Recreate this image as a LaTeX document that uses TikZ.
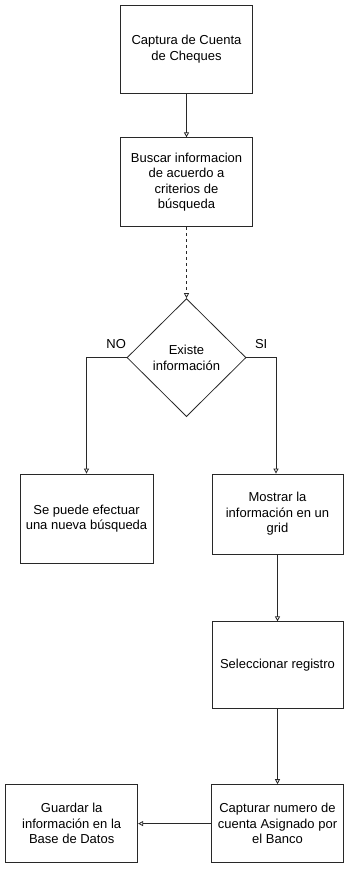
\documentclass[tikz,border=0pt]{standalone}
\usepackage{fontspec}
\setmainfont{Liberation Sans}
\usetikzlibrary{arrows.meta,positioning,shapes.geometric}
\definecolor{edge}{RGB}{40,40,40}
\tikzset{
 box/.style={draw=edge, line width=.8pt, align=center, minimum width=132pt,
             inner xsep=2pt, font=\fontsize{13}{15.5}\selectfont},
 decision/.style={draw=edge, line width=.8pt, diamond, aspect=1, minimum width=119pt,
             minimum height=118pt, inner sep=0pt, align=center, font=\fontsize{13}{15.5}\selectfont},
 flow/.style={-{Triangle[open,length=5pt,width=5pt]}, line width=.8pt, draw=edge},
 small/.style={font=\fontsize{13}{15.5}\selectfont}
}
\begin{document}
\begin{tikzpicture}[x=1pt,y=-1pt]
\useasboundingbox (0,0) rectangle (355,879);

\node[box, minimum height=88pt] (captura) at (186.5,49) {Captura de Cuenta\\de Cheques};
\node[box, minimum height=89pt, below=44pt of captura] (buscar) {Buscar informacion\\de acuerdo a\\criterios de\\búsqueda};
\node[decision, below=71pt of buscar] (existe) {Existe\\información};

\node[box, minimum width=133pt, minimum height=89pt] (nueva) at (86.5,518.5) {Se puede efectuar\\una nueva búsqueda};
\node[box, minimum width=131pt, minimum height=80pt] (mostrar) at (277.5,514) {Mostrar la\\información en un\\grid};
\node[box, minimum width=131pt, minimum height=87pt, below=67pt of mostrar] (selec) {Seleccionar registro};
\node[box, minimum height=78pt, below=75pt of selec] (capturar) {Capturar numero de\\cuenta Asignado por\\el Banco};
\node[box, minimum height=78pt, left=73pt of capturar] (guardar) {Guardar la\\información en la\\Base de Datos};

\draw[flow] (captura) -- (buscar);
\draw[flow, dashed] (buscar) -- (existe);
\draw[flow] (existe.west) -| node[small, pos=.13, above=5pt]{NO} (nueva.north);
\draw[flow] (existe.east) -| node[small, pos=.25, above=5pt]{SI} ([xshift=-1.5pt]mostrar.north);
\draw[flow] (mostrar) -- (selec);
\draw[flow] (selec) -- (capturar);
\draw[flow] (capturar) -- (guardar);

\end{tikzpicture}
\end{document}
